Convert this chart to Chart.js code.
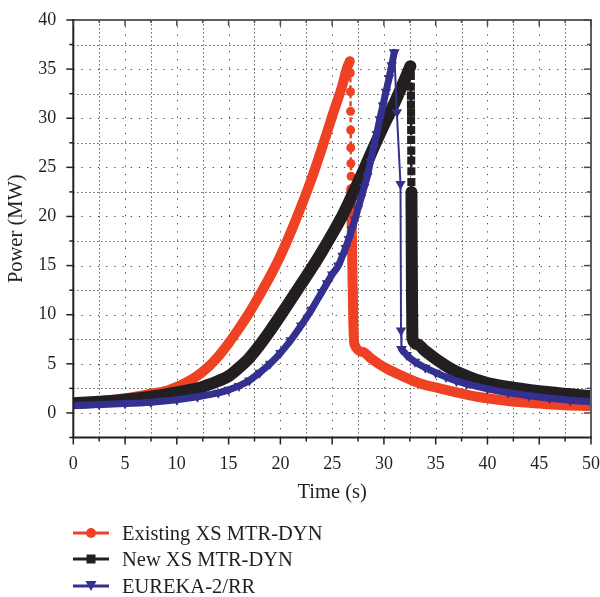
<!DOCTYPE html>
<html lang="en">
<head>
<meta charset="UTF-8">
<title>Power transient</title>
<script src="https://cdn.jsdelivr.net/npm/chart.js"></script>
<style>
  body { margin: 0; background: #fff; font-family: "Liberation Serif", serif; color: #231f20; }
  #wrap { position: relative; width: 600px; height: 597px; }
  #chart { position: absolute; left: 0; top: 0; }
  .legend-row { position: absolute; left: 73px; height: 24px; display: flex; align-items: center; font-size: 20.5px; white-space: nowrap; }
  .legend-row svg { margin-right: 13px; }
</style>
</head>
<body>
<div id="wrap">
  <canvas id="chart" width="600" height="597"></canvas>
  <div class="legend-row" style="top: 521px;">
    <svg width="36" height="14"><line x1="0" y1="7" x2="36" y2="7" stroke="#ef4123" stroke-width="3"/><circle cx="18" cy="7" r="5" fill="#ef4123"/></svg>
    Existing XS MTR-DYN
  </div>
  <div class="legend-row" style="top: 547px;">
    <svg width="36" height="14"><line x1="0" y1="7" x2="36" y2="7" stroke="#231f20" stroke-width="3"/><rect x="13.5" y="2.5" width="9" height="9" fill="#231f20"/></svg>
    New XS MTR-DYN
  </div>
  <div class="legend-row" style="top: 574px;">
    <svg width="36" height="14"><line x1="0" y1="7" x2="36" y2="7" stroke="#34308f" stroke-width="3"/><polygon points="12.5,2 23.5,2 18,12" fill="#34308f"/></svg>
    EUREKA-2/RR
  </div>
</div>

<script>
// tick labels
const xTicks = [0, 5, 10, 15, 20, 25, 30, 35, 40, 45, 50];
const yTicks = [0, 5, 10, 15, 20, 25, 30, 35, 40];

// Existing XS MTR-DYN (time s, power MW)
const redRiseT = [0, 2.5, 5, 7.5, 9, 10, 11, 12, 13, 14, 15, 16, 17, 18, 19, 20, 21, 22, 23, 24, 25, 26, 26.4, 26.7];
const redRiseP = [1.0, 1.2, 1.5, 1.95, 2.25, 2.65, 3.15, 3.8, 4.65, 5.75, 7.1, 8.6, 10.2, 12.0, 13.9, 16.0, 18.4, 21.0, 23.8, 26.9, 30.2, 33.4, 35.0, 35.8];
const redDropT = [26.7, 26.75, 26.77, 26.78, 26.79, 26.8, 26.81, 26.83];
const redDropP = [35.8, 34.6, 32.7, 30.7, 28.8, 27.0, 25.4, 24.1];
const redFallT = [26.84, 26.95, 27.05, 27.15, 28, 28.7, 29.5, 30.3, 31.9, 33.5, 35, 37, 39, 41, 43, 45, 47, 50];
const redFallP = [22.8, 15.0, 9.0, 7.0, 6.2, 5.6, 5.0, 4.5, 3.7, 3.0, 2.6, 2.1, 1.65, 1.35, 1.1, 0.95, 0.82, 0.7];

// New XS MTR-DYN
const blackRiseT = [0, 2.5, 5, 7.5, 10, 12, 13, 14, 15, 16, 17, 18, 19, 20, 21, 22, 23, 24, 25, 26, 27, 28, 29, 30, 31, 32, 32.55];
const blackRiseP = [1.0, 1.15, 1.35, 1.65, 2.1, 2.5, 2.85, 3.25, 3.75, 4.6, 5.6, 6.9, 8.35, 9.9, 11.5, 13.1, 14.7, 16.4, 18.2, 20.1, 22.3, 24.6, 27.0, 29.3, 31.5, 33.9, 35.3];
const blackDropT = [32.55, 32.6, 32.6, 32.61, 32.61, 32.62, 32.62, 32.63, 32.63, 32.64, 32.64, 32.65, 32.65, 32.66];
const blackDropP = [35.3, 34.3, 33.2, 32.3, 31.4, 30.6, 29.8, 28.8, 27.8, 26.7, 25.7, 24.6, 23.5, 22.5];
const blackFallT = [32.66, 32.7, 32.75, 33.2, 34, 35, 36, 37, 38, 39, 40, 42, 44, 46, 48, 50];
const blackFallP = [22.5, 14.0, 7.6, 7.0, 6.3, 5.5, 4.8, 4.2, 3.75, 3.35, 3.05, 2.65, 2.35, 2.1, 1.9, 1.7];

// EUREKA-2/RR
const blueRiseT = [0, 2.5, 5, 7.5, 10, 12, 14, 15, 16, 17, 18, 19, 20, 21, 22, 23, 24, 24.5, 25, 25.6, 26, 26.3, 26.6, 26.9, 27.2, 27.5, 27.8, 28.1, 28.4, 28.7, 29, 29.3, 29.6, 29.9, 30.2, 30.5, 30.75, 31];
const blueRiseP = [0.75, 0.85, 0.95, 1.1, 1.35, 1.65, 2.05, 2.35, 2.75, 3.3, 4.1, 5.0, 6.1, 7.4, 8.9, 10.5, 12.3, 13.2, 14.1, 15.0, 16.0, 16.8, 17.7, 18.7, 19.7, 20.8, 21.9, 23.0, 24.1, 25.6, 27.0, 28.4, 29.9, 31.3, 32.7, 34.1, 35.4, 36.7];
const blueDropT = [31, 31.25, 31.6, 31.65, 31.7];
const blueDropP = [36.7, 30.6, 23.3, 8.4, 6.5];
const blueFallT = [31.7, 32.2, 33, 34, 35, 36, 37, 38, 40, 42, 44, 46, 48, 50];
const blueFallP = [6.5, 5.9, 5.2, 4.6, 4.1, 3.65, 3.25, 2.95, 2.45, 2.05, 1.75, 1.5, 1.3, 1.15];

const RED = '#ef4123', BLACK = '#231f20', BLUE = '#34308f';
const TXT = '#231f20';
const FONT = 'Liberation Serif';

function pts(ts, ps) {
  return ts.map((t, i) => ({ x: t, y: ps[i] }));
}
// break in the thick line where the sparse markers take over
function band(riseT, riseP, fallT, fallP) {
  return [...pts(riseT, riseP), { x: riseT[riseT.length - 1], y: null }, ...pts(fallT, fallP)];
}

function bandSet(label, data, color, width, style, radius, order) {
  return {
    label, data, order,
    borderColor: color, borderWidth: width,
    borderJoinStyle: 'round', borderCapStyle: 'round',
    pointStyle: style, pointRadius: radius, pointRotation: style === 'triangle' ? 180 : 0,
    pointBackgroundColor: color, pointBorderWidth: 0,
    spanGaps: false, clip: 0, cubicInterpolationMode: 'monotone'
  };
}
function dropSet(label, data, color, width, dash, style, radius, order) {
  return {
    label, data, order,
    borderColor: color, borderWidth: width, borderDash: dash,
    pointStyle: style, pointRadius: radius, pointRotation: style === 'triangle' ? 180 : 0,
    pointBackgroundColor: color, pointBorderWidth: 0,
    clip: 0, tension: 0
  };
}

// dotted grid, axis frame and tick marks
const frame = {
  id: 'frame',
  beforeDatasetsDraw(chart) {
    const { ctx, chartArea: a, scales: { x, y } } = chart;
    ctx.save();
    ctx.strokeStyle = '#3c3c3c';
    ctx.lineWidth = 1;
    x.ticks.forEach(t => {
      if (t.value <= x.min || t.value >= x.max) return;
      const px = Math.round(x.getPixelForValue(t.value)) + 0.5;
      ctx.setLineDash(xTicks.includes(t.value) ? [1.2, 7] : [1.2, 2.8]);
      ctx.beginPath(); ctx.moveTo(px, a.bottom); ctx.lineTo(px, a.top); ctx.stroke();
    });
    y.ticks.forEach(t => {
      if (t.value <= y.min || t.value >= y.max) return;
      const py = Math.round(y.getPixelForValue(t.value)) + 0.5;
      ctx.setLineDash(yTicks.includes(t.value) ? [1.2, 7] : [1.2, 2.8]);
      ctx.beginPath(); ctx.moveTo(a.left, py); ctx.lineTo(a.right, py); ctx.stroke();
    });
    ctx.restore();
  },
  afterDatasetsDraw(chart) {
    const { ctx, chartArea: a, scales: { x, y } } = chart;
    ctx.save();
    ctx.setLineDash([]);
    ctx.strokeStyle = '#5e5e5e';
    ctx.lineWidth = 2;
    ctx.beginPath(); ctx.moveTo(a.left, a.top); ctx.lineTo(a.right, a.top); ctx.lineTo(a.right, a.bottom); ctx.stroke();
    ctx.strokeStyle = TXT;
    ctx.beginPath(); ctx.moveTo(a.left, a.top - 1); ctx.lineTo(a.left, a.bottom); ctx.lineTo(a.right + 1, a.bottom); ctx.stroke();
    ctx.lineWidth = 1.5;
    x.ticks.forEach(t => {
      const px = x.getPixelForValue(t.value);
      const len = xTicks.includes(t.value) ? 7 : 4;
      ctx.strokeStyle = TXT;
      ctx.beginPath(); ctx.moveTo(px, a.bottom); ctx.lineTo(px, a.bottom + len); ctx.stroke();
      ctx.strokeStyle = '#4a4a4a';
      ctx.beginPath(); ctx.moveTo(px, a.top); ctx.lineTo(px, a.top + len - 1); ctx.stroke();
    });
    y.ticks.forEach(t => {
      const py = y.getPixelForValue(t.value);
      const len = yTicks.includes(t.value) ? 7 : 4;
      ctx.strokeStyle = TXT;
      ctx.beginPath(); ctx.moveTo(a.left, py); ctx.lineTo(a.left - len, py); ctx.stroke();
      ctx.strokeStyle = '#4a4a4a';
      ctx.beginPath(); ctx.moveTo(a.right, py); ctx.lineTo(a.right - len, py); ctx.stroke();
    });
    ctx.restore();
  }
};

const chart = new Chart(document.getElementById('chart'), {
  type: 'line',
  data: {
    datasets: [
      bandSet('EUREKA-2/RR', band(blueRiseT, blueRiseP, blueFallT, blueFallP), BLUE, 7, 'triangle', 6, 1),
      dropSet('EUREKA-2/RR', pts(blueDropT, blueDropP), BLUE, 2, [], 'triangle', 6, 0),
      bandSet('New XS MTR-DYN', band(blackRiseT, blackRiseP, blackFallT, blackFallP), BLACK, 12, 'rect', 5.7, 3),
      dropSet('New XS MTR-DYN', pts(blackDropT, blackDropP), BLACK, 2.5, [5, 3], 'rect', 5.7, 2),
      bandSet('Existing XS MTR-DYN', band(redRiseT, redRiseP, redFallT, redFallP), RED, 10, 'circle', 4.5, 5),
      dropSet('Existing XS MTR-DYN', pts(redDropT, redDropP), RED, 2.5, [5, 3], 'circle', 4.5, 4)
    ]
  },
  options: {
    responsive: false,
    animation: false,
    events: [],
    layout: { autoPadding: false, padding: { top: 20, right: 9, bottom: 92, left: 0 } },
    plugins: { legend: { display: false }, tooltip: { enabled: false } },
    scales: {
      x: {
        type: 'linear', min: 0, max: 50,
        afterFit: s => { s.height = 67.5; s.paddingLeft = 0; s.paddingRight = 0; },
        grid: { display: false, drawTicks: false },
        border: { display: false },
        ticks: {
          stepSize: 2.5, autoSkip: false, maxRotation: 0, padding: 16,
          color: TXT, font: { family: FONT, size: 18 },
          callback: v => xTicks.includes(v) ? String(v) : ''
        },
        title: { display: true, text: 'Time (s)', color: TXT, font: { family: FONT, size: 20.5 }, padding: 0 }
      },
      y: {
        type: 'linear', min: -2.5, max: 40,
        afterFit: s => { s.width = 73.3; s.paddingTop = 0; s.paddingBottom = 0; },
        grid: { display: false, drawTicks: false },
        border: { display: false },
        ticks: {
          stepSize: 2.5, autoSkip: false, padding: 17,
          color: TXT, font: { family: FONT, size: 18 },
          callback: v => yTicks.includes(v) ? String(v) : ''
        },
        title: { display: true, text: 'Power (MW)', color: TXT, font: { family: FONT, size: 20.5 }, padding: { top: 4, bottom: 0 } }
      }
    }
  },
  plugins: [frame]
});
</script>
</body>
</html>
